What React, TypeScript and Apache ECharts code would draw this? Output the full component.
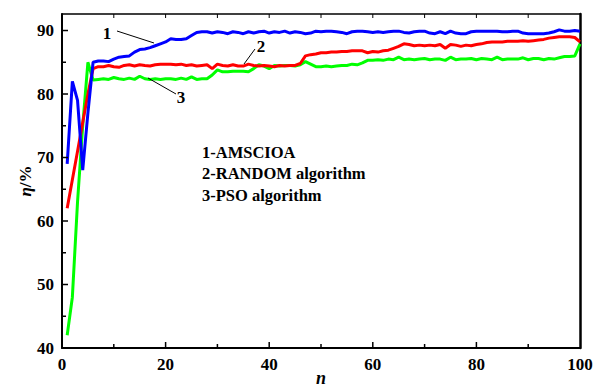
import React, { useEffect, useRef } from "react";
import * as echarts from "echarts";

const nValues: number[] = Array.from({ length: 100 }, (_, i) => i + 1);

const amscioa: number[] = [
  69, 82, 79, 68, 77, 85, 85.2, 85.2, 85.1, 85.5,
  85.8, 85.9, 86, 86.6, 87, 87.1, 87.3, 87.6, 87.9, 88.2,
  88.7, 88.6, 88.6, 88.7, 89.2, 89.7, 89.8, 89.8, 89.6, 89.8,
  89.7, 89.5, 89.8, 89.7, 89.5, 89.8, 89.6, 89.8, 89.9, 89.6,
  89.8, 89.7, 89.9, 89.6, 89.8, 89.7, 89.5, 89.6, 89.9, 89.8,
  89.9, 89.9, 89.8, 89.7, 89.5, 89.8, 89.9, 89.9, 89.8, 89.7,
  89.8, 89.7, 89.8, 89.9, 89.9, 89.7, 89.6, 89.8, 89.9, 89.9,
  89.6, 89.5, 89.8, 89.5, 89.9, 89.6, 89.5, 89.5, 89.8, 89.9,
  89.9, 89.9, 89.9, 89.9, 89.8, 89.8, 89.9, 89.9, 89.6, 89.5,
  89.5, 89.5, 89.5, 89.6, 89.8, 90.1, 89.9, 89.9, 90, 89.9,
];

const randomAlg: number[] = [
  62, 66.5, 71, 75.5, 80, 84, 84.3, 84.3, 84.5, 84.3,
  84.2, 84.5, 84.6, 84.4, 84.6, 84.5, 84.4, 84.6, 84.7, 84.7,
  84.7, 84.6, 84.7, 84.5, 84.6, 84.4, 84.5, 84.6, 84.0, 84.7,
  84.5, 84.4, 84.6, 84.4, 84.4, 84.7, 84.5, 84.4, 84.5, 84.4,
  84.3, 84.5, 84.4, 84.5, 84.5, 84.8, 86.0, 86.2, 86.3, 86.5,
  86.5, 86.6, 86.6, 86.7, 86.7, 86.8, 86.8, 86.8, 86.5, 86.7,
  86.6, 86.8, 86.9, 87.2, 87.5, 87.9, 87.8, 87.6, 87.7, 87.6,
  87.7, 87.6, 87.8, 87.2, 87.8, 87.7, 87.5, 87.7, 87.6, 87.8,
  87.9, 88.1, 88.2, 88.2, 88.2, 88.3, 88.3, 88.3, 88.4, 88.3,
  88.4, 88.5, 88.6, 88.8, 88.9, 89.0, 89.0, 89.0, 88.9, 88.2,
];

const psoAlg: number[] = [
  42, 48, 63, 75, 85, 82.2, 82.3, 82.4, 82.3, 82.6,
  82.4, 82.3, 82.5, 82.3, 82.8, 82.4, 82.3, 82.4, 82.3, 82.4,
  82.4, 82.3, 82.5, 82.3, 82.7, 82.3, 82.4, 82.4, 83.0, 83.8,
  83.5, 83.5, 83.6, 83.6, 83.6, 83.5, 84.0, 84.6, 84.4, 84.0,
  84.5, 84.4, 84.5, 84.5, 84.4, 84.6, 85.1, 84.7, 84.3, 84.3,
  84.4, 84.3, 84.4, 84.5, 84.5, 84.7, 84.6, 84.9, 85.3, 85.3,
  85.4, 85.3, 85.5, 85.4, 85.8, 85.4, 85.5, 85.4, 85.5, 85.6,
  85.4, 85.5, 85.5, 85.3, 85.8, 85.4, 85.5, 85.5, 85.6, 85.4,
  85.6, 85.5, 85.4, 85.8, 85.4, 85.5, 85.5, 85.5, 85.7, 85.4,
  85.6, 85.6, 85.4, 85.6, 85.5, 85.7, 85.9, 85.9, 86.0, 87.9,
];

const xMajorTicks: number[] = [20, 40, 60, 80];
const xMinorTicks: number[] = [10, 30, 50, 70, 90];
const topTicks: number[] = [10, 20, 30, 40, 50, 60, 70, 80, 90];
const yMajorTicks: number[] = [50, 60, 70, 80, 90];
const yMinorTicks: number[] = [45, 55, 65, 75, 85];

const legendLines: string[] = ["1-AMSCIOA", "2-RANDOM algorithm", "3-PSO algorithm"];

const FONT = "'Liberation Serif', 'Times New Roman', serif";
const X_MIN = 0, X_MAX = 100, Y_MIN = 40, Y_MAX = 92.6;

export default function App() {
  const ref = useRef<HTMLDivElement>(null);
  useEffect(() => {
    if (!ref.current) return;
    const chart = echarts.init(ref.current, null, { renderer: "svg" });
    const mk = (d: number[]) => nValues.map((n, i) => [n, d[i]]);
    const labelStyle = { fontFamily: FONT, fontWeight: "bold" as const, fontSize: 17, color: "#000" };

    const tickSeries = (vals: number[], side: string, len: number, w: number) => ({
      type: "custom",
      silent: true,
      clip: false,
      z: 20,
      data: vals.map((v) => [v]),
      renderItem: (_p: any, api: any) => {
        const v = api.value(0);
        let p: number[];
        let x2: number, y2: number;
        if (side === "b") {
          p = api.coord([v, Y_MIN]); x2 = p[0]; y2 = p[1] - len;
        } else if (side === "t") {
          p = api.coord([v, Y_MAX]); x2 = p[0]; y2 = p[1] + len;
        } else {
          p = api.coord([X_MIN, v]); x2 = p[0] + len; y2 = p[1];
        }
        return {
          type: "line",
          shape: { x1: p[0], y1: p[1], x2, y2 },
          style: { stroke: "#000", lineWidth: w },
        };
      },
    });

    chart.setOption({
      animation: false,
      backgroundColor: "#fff",
      grid: { left: 62, top: 14, width: 518, height: 334, containLabel: false, outerBoundsMode: "none" },
      xAxis: [
        {
          type: "value", min: X_MIN, max: X_MAX, interval: 20, position: "bottom",
          name: "n", nameLocation: "middle", nameGap: 21, nameMoveOverlap: false,
          nameTextStyle: { fontFamily: FONT, fontWeight: "bold", fontStyle: "italic", fontSize: 18, color: "#000", verticalAlign: "top" },
          axisLine: { show: true, onZero: false, lineStyle: { color: "#000", width: 2 } },
          axisTick: { show: false },
          axisLabel: { ...labelStyle, margin: 8 },
          splitLine: { show: false },
        },
        {
          type: "value", min: X_MIN, max: X_MAX, position: "top",
          axisLine: { show: true, onZero: false, lineStyle: { color: "#000", width: 1.5 } },
          axisTick: { show: false },
          axisLabel: { show: false },
          splitLine: { show: false },
        },
      ],
      yAxis: [
        {
          type: "value", min: Y_MIN, max: Y_MAX, interval: 10, position: "left",
          name: "{i|η}{n|/%}", nameLocation: "middle", nameGap: 28, nameRotate: 90, nameMoveOverlap: false,
          nameTextStyle: {
            verticalAlign: "bottom",
            rich: {
              i: { fontFamily: FONT, fontWeight: "bold", fontStyle: "italic", fontSize: 17, color: "#000" },
              n: { fontFamily: FONT, fontWeight: "bold", fontSize: 17, color: "#000" },
            },
          },
          axisLine: { show: true, onZero: false, lineStyle: { color: "#000", width: 2 } },
          axisTick: { show: false },
          axisLabel: {
            ...labelStyle, margin: 8, showMaxLabel: false,
            formatter: (v: number) => (Math.abs(v % 10) < 1e-6 ? String(v) : ""),
          },
          splitLine: { show: false },
        },
        {
          type: "value", min: Y_MIN, max: Y_MAX, position: "right",
          axisLine: { show: true, onZero: false, lineStyle: { color: "#000", width: 2.5 } },
          axisTick: { show: false },
          axisLabel: { show: false },
          splitLine: { show: false },
        },
      ],
      series: [
        { type: "line", data: mk(amscioa), showSymbol: false, lineStyle: { color: "#0000ff", width: 3 }, itemStyle: { color: "#0000ff" }, z: 3 },
        { type: "line", data: mk(randomAlg), showSymbol: false, lineStyle: { color: "#ff0000", width: 3 }, itemStyle: { color: "#ff0000" }, z: 2 },
        { type: "line", data: mk(psoAlg), showSymbol: false, lineStyle: { color: "#00ff00", width: 3 }, itemStyle: { color: "#00ff00" }, z: 1 },
        tickSeries(xMajorTicks, "b", 6, 1.5),
        tickSeries(xMinorTicks, "b", 4, 1.5),
        tickSeries(topTicks, "t", 4, 1),
        tickSeries(yMajorTicks, "l", 6, 1.5),
        tickSeries(yMinorTicks, "l", 4, 1.5),
      ],
      graphic: [
        { type: "text", x: 107, y: 33, z: 10, style: { text: "1", fontFamily: FONT, fontWeight: "bold", fontSize: 17, fill: "#000", align: "center", verticalAlign: "middle" } },
        { type: "line", z: 10, shape: { x1: 117, y1: 31, x2: 154, y2: 43 }, style: { stroke: "#000", lineWidth: 1 } },
        { type: "text", x: 261, y: 46, z: 10, style: { text: "2", fontFamily: FONT, fontWeight: "bold", fontSize: 17, fill: "#000", align: "center", verticalAlign: "middle" } },
        { type: "line", z: 10, shape: { x1: 255, y1: 49, x2: 244, y2: 64 }, style: { stroke: "#000", lineWidth: 1 } },
        { type: "text", x: 181, y: 97, z: 10, style: { text: "3", fontFamily: FONT, fontWeight: "bold", fontSize: 17, fill: "#000", align: "center", verticalAlign: "middle" } },
        { type: "line", z: 10, shape: { x1: 176, y1: 94, x2: 148, y2: 78 }, style: { stroke: "#000", lineWidth: 1 } },
        ...legendLines.map((t, i) => ({
          type: "text", x: 202, y: 152 + i * 21.5, z: 10,
          style: { text: t, fontFamily: FONT, fontWeight: "bold", fontSize: 16.5, fill: "#000", align: "left", verticalAlign: "middle" },
        })),
      ],
    });
    return () => chart.dispose();
  }, []);
  return <div ref={ref} style={{ position: "fixed", left: 0, top: 0, width: 593, height: 387 }} />;
}
